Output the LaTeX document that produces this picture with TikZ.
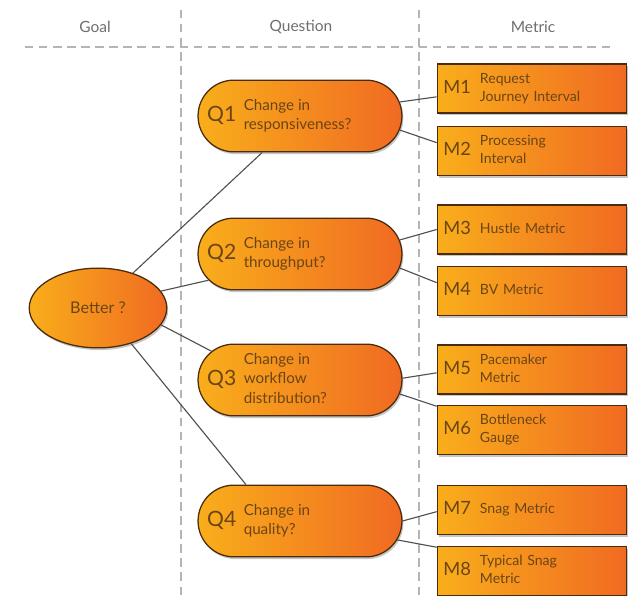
\documentclass[tikz,border=0pt]{standalone}
\usepackage{fontspec}
\setmainfont{Lato}
\usepackage{tikz}
\usetikzlibrary{shapes.geometric, shapes.misc, shadows}

\definecolor{gqmyellow}{HTML}{F9AE1B}
\definecolor{gqmorange}{HTML}{F06A22}
\definecolor{gqmedge}{HTML}{4A2C0C}
\definecolor{gqmtext}{HTML}{6B4514}
\definecolor{gqmgrid}{HTML}{B4B4B4}
\definecolor{gqmhead}{HTML}{6E6E6E}
\definecolor{gqmlink}{HTML}{505050}

\tikzset{
    gqmfill/.style={left color=gqmyellow, right color=gqmorange,
        draw=gqmedge, line width=0.9pt, text=gqmtext,
        drop shadow={shadow xshift=1pt, shadow yshift=-1.6pt, opacity=0.45}},
    goalnode/.style={gqmfill, ellipse, minimum width=97.8pt,
        minimum height=56.7pt, font=\fontsize{11.5}{13}\selectfont},
    questionnode/.style={gqmfill, rounded rectangle, minimum width=145pt,
        minimum height=51pt, inner xsep=0pt, inner ysep=0pt,
        font=\fontsize{10.8}{14}\selectfont},
    metricnode/.style={gqmfill, rectangle, minimum width=134.7pt,
        minimum height=34.7pt, text width=126pt, align=left,
        inner xsep=4.35pt, inner ysep=0pt, font=\fontsize{10}{13}\selectfont},
    headnode/.style={text=gqmhead, font=\fontsize{11}{12}\selectfont},
    link/.style={gqmlink, line width=0.8pt},
    gridline/.style={gqmgrid, line width=1.1pt, dash pattern=on 6pt off 4pt},
}

\newcommand{\qlabel}[2]{\makebox[94pt][c]{\makebox[132pt][l]{%
    \makebox[26pt][l]{\raisebox{-1.5pt}{\fontsize{15}{15}\selectfont #1}}%
    \begin{tabular}[c]{@{}l@{}}#2\end{tabular}}}}
\newcommand{\mlabel}[2]{\makebox[26pt][l]{\raisebox{-1pt}{\fontsize{13}{13}\selectfont #1}}%
    \begin{tabular}[c]{@{}l@{}}#2\end{tabular}}

\begin{document}
\begin{tikzpicture}[x=0.025cm, y=-0.025cm]
    \useasboundingbox (0,0) rectangle (638,596);

    \draw[gridline] (25,47) -- (615,47);
    \draw[gridline] (181,10) -- (181,596);
    \draw[gridline] (419,10) -- (419,596);

    \node[headnode] (goalhead) at (95,27) {Goal};
    \node[headnode] (questionhead) at (301,27) {Question};
    \node[headnode] (metrichead) at (533,27) {Metric};

    \node[goalnode] (better) at (98,308) {Better ?};

    \node[questionnode] (q1) at (300,116) {\qlabel{Q1}{Change in\\responsiveness?}};
    \node[questionnode] (q2) at (300,254) {\qlabel{Q2}{Change in\\throughput?}};
    \node[questionnode] (q3) at (300,380) {\qlabel{Q3}{Change in\\workflow\\distribution?}};
    \node[questionnode] (q4) at (300,521) {\qlabel{Q4}{Change in\\quality?}};

    \foreach \n/\y/\txt in {1/88.5/{Request\\Journey Interval},
                            2/151/{Processing\\Interval},
                            3/229.5/{Hustle Metric},
                            4/291/{BV Metric},
                            5/369.5/{Pacemaker\\Metric},
                            6/430/{Bottleneck\\Gauge},
                            7/510/{Snag Metric},
                            8/571/{Typical Snag\\Metric}}{
        \node[metricnode] (m\n) at (532,\y) {\mlabel{M\n}{\txt}};
    }

    \foreach \q/\a/\b in {q1/45/224, q2/15/196, q3/-15/162, q4/-47/146}{
        \draw[link] (better.\a) -- (\q.\b);
    }
    \foreach \q/\m/\a/\b in {q1/m1/8/185, q1/m2/-8/175, q2/m3/8/180, q2/m4/-8/175,
                             q3/m5/1/182, q3/m6/-8/166, q4/m7/0/181, q4/m8/-11/166}{
        \draw[link] (\q.\a) -- (\m.\b);
    }
\end{tikzpicture}
\end{document}
